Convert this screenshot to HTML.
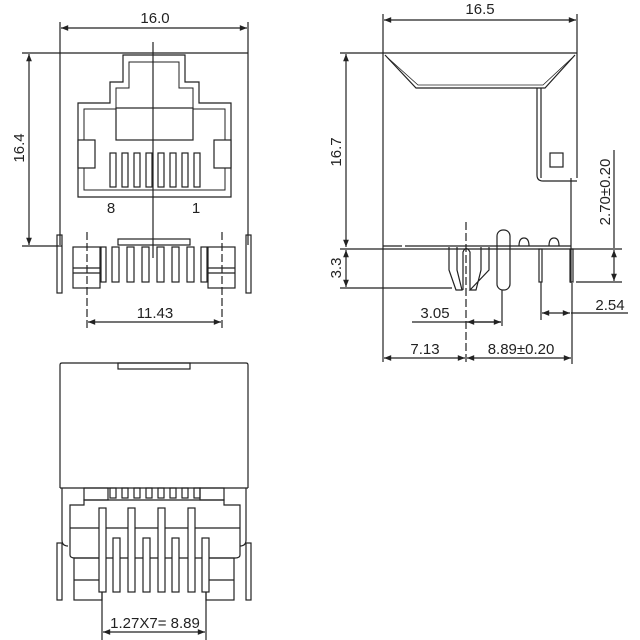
<!DOCTYPE html>
<html><head><style>html,body{margin:0;padding:0;background:#fff}svg{display:block}text{font-family:"Liberation Sans",sans-serif;font-size:15px;fill:#222;stroke:none}</style></head><body>
<svg width="640" height="640" viewBox="0 0 640 640" xmlns="http://www.w3.org/2000/svg" fill="none" stroke="#222" stroke-width="1.2">
<defs><marker id="a" viewBox="0 0 10 10" refX="10" refY="5" markerWidth="8" markerHeight="6" orient="auto-start-reverse"><path d="M0,1 L10,5 L0,9" fill="#222" stroke="none"/></marker></defs>
<!-- FRONT VIEW -->
<line x1="60" y1="22" x2="60" y2="245"/><line x1="248" y1="22" x2="248" y2="245"/>
<line x1="61" y1="28" x2="247" y2="28" marker-start="url(#a)" marker-end="url(#a)"/>
<text x="155" y="23" text-anchor="middle">16.0</text>
<line x1="60" y1="53" x2="248" y2="53"/>
<line x1="22" y1="53" x2="60" y2="53"/><line x1="22" y1="246" x2="62" y2="246"/>
<line x1="29" y1="54" x2="29" y2="245" marker-start="url(#a)" marker-end="url(#a)"/>
<text transform="translate(24,148) rotate(-90)" text-anchor="middle">16.4</text>
<path d="M123,55 H185 V82 H199 V103 H231 V197 H78 V103 H110 V82 H123 Z"/>
<path d="M129,62 H179 V88 H193 V109 H225 V190 H84 V109 H116 V88 H129 Z" stroke-width="1"/>
<rect x="116" y="108" width="77" height="32"/>
<rect x="78" y="140" width="17" height="28" fill="#fff"/><rect x="214" y="140" width="17" height="28" fill="#fff"/>
<g><rect x="110" y="153" width="6" height="34"/><rect x="122" y="153" width="6" height="34"/><rect x="134" y="153" width="6" height="34"/><rect x="146" y="153" width="6" height="34"/><rect x="158" y="153" width="6" height="34"/><rect x="170" y="153" width="6" height="34"/><rect x="182" y="153" width="6" height="34"/><rect x="194" y="153" width="6" height="34"/></g>
<text x="111" y="213" text-anchor="middle">8</text><text x="196" y="213" text-anchor="middle">1</text>
<line x1="153" y1="42" x2="153" y2="258"/>
<rect x="118" y="239" width="72" height="6"/>
<rect x="57" y="235" width="5" height="58"/><rect x="246" y="235" width="5" height="58"/>
<rect x="73" y="247" width="27" height="41"/><line x1="73" y1="268" x2="100" y2="268"/><line x1="73" y1="273" x2="100" y2="273"/>
<rect x="208" y="247" width="27" height="41"/><line x1="208" y1="268" x2="235" y2="268"/><line x1="208" y1="273" x2="235" y2="273"/>
<g><rect x="101" y="247" width="5" height="35"/><rect x="112" y="247" width="7" height="35"/><rect x="127" y="247" width="7" height="35"/><rect x="142" y="247" width="7" height="35"/><rect x="157" y="247" width="7" height="35"/><rect x="172" y="247" width="7" height="35"/><rect x="187" y="247" width="7" height="35"/><rect x="201" y="247" width="6" height="35"/></g>
<line x1="87" y1="232" x2="87" y2="328" stroke-dasharray="8,3"/><line x1="222" y1="232" x2="222" y2="328" stroke-dasharray="8,3"/>
<line x1="88" y1="322" x2="221" y2="322" marker-start="url(#a)" marker-end="url(#a)"/>
<text x="155" y="318" text-anchor="middle">11.43</text>
<!-- SIDE VIEW -->
<line x1="383" y1="14" x2="383" y2="362"/><line x1="577" y1="14" x2="577" y2="178"/>
<line x1="384" y1="20" x2="576" y2="20" marker-start="url(#a)" marker-end="url(#a)"/>
<text x="480" y="14" text-anchor="middle">16.5</text>
<line x1="340" y1="53" x2="577" y2="53"/>
<path d="M385,55 L416,88 H545 L575,55"/><path d="M388,58 L418,85 H543 L572,58" stroke-width="0.8"/>
<path d="M537,88 V175 Q537,181 543,181 H577"/><line x1="541" y1="88" x2="541" y2="178"/>
<rect x="550" y="153" width="13" height="14"/>
<line x1="571" y1="178" x2="571" y2="283"/>
<line x1="346" y1="54" x2="346" y2="247" marker-start="url(#a)" marker-end="url(#a)"/>
<text transform="translate(341,152) rotate(-90)" text-anchor="middle">16.7</text>
<line x1="340" y1="249" x2="622" y2="249"/>
<line x1="383" y1="246" x2="402" y2="246"/><line x1="405" y1="246" x2="571" y2="246"/>
<line x1="346" y1="250" x2="346" y2="287" marker-start="url(#a)" marker-end="url(#a)"/>
<text transform="translate(341,268) rotate(-90)" text-anchor="middle">3.3</text>
<line x1="340" y1="288" x2="452" y2="288"/>
<path d="M449,247 V270 L456,290 H462 L457,270 V247"/>
<path d="M481,247 V270 L476,290 H470 L489,270 V247" />
<path d="M463,290 V252 Q466,245 470,252 V290" />
<rect x="497" y="230" width="13" height="60" rx="6"/>
<path d="M519,246 Q519,238 524,238 Q529,238 529,246"/><path d="M549,246 Q549,238 554,238 Q559,238 559,246"/>
<rect x="539" y="249" width="3" height="33"/><rect x="570" y="249" width="3" height="33"/>
<line x1="466" y1="222" x2="466" y2="364" stroke-dasharray="8,3"/>
<line x1="614" y1="150" x2="614" y2="248" /><line x1="614" y1="250" x2="614" y2="281" marker-start="url(#a)" marker-end="url(#a)"/>
<text transform="translate(610,192) rotate(-90)" text-anchor="middle">2.70±0.20</text>
<line x1="576" y1="282" x2="622" y2="282"/>
<line x1="502" y1="290" x2="502" y2="326"/>
<line x1="412" y1="322" x2="501" y2="322"/><line x1="467" y1="322" x2="501" y2="322" marker-start="url(#a)" marker-end="url(#a)"/>
<text x="435" y="318" text-anchor="middle">3.05</text>
<line x1="541" y1="282" x2="541" y2="320"/>
<line x1="542" y1="313" x2="570" y2="313" marker-start="url(#a)" marker-end="url(#a)"/><line x1="571" y1="313" x2="628" y2="313"/>
<text x="610" y="310" text-anchor="middle">2.54</text>
<line x1="572" y1="283" x2="572" y2="364"/>
<line x1="384" y1="358" x2="465" y2="358" marker-start="url(#a)" marker-end="url(#a)"/>
<line x1="467" y1="358" x2="571" y2="358" marker-start="url(#a)" marker-end="url(#a)"/>
<text x="425" y="354" text-anchor="middle">7.13</text><text x="521" y="354" text-anchor="middle">8.89±0.20</text>
<!-- BOTTOM VIEW -->
<path d="M60,488 V365 Q60,363 62,363 H246 Q248,363 248,365 V488"/>
<rect x="118" y="363" width="72" height="6"/>
<line x1="60" y1="488" x2="248" y2="488"/>
<path d="M62,488 V540 Q62,546 68,546 M246,488 V540 Q246,546 240,546"/>
<rect x="57" y="543" width="5" height="57"/><rect x="246" y="543" width="5" height="57"/>
<rect x="84" y="488" width="24" height="12"/><rect x="200" y="488" width="24" height="12"/>
<g><rect x="110" y="488" width="6" height="10"/><rect x="122" y="488" width="6" height="10"/><rect x="134" y="488" width="6" height="10"/><rect x="146" y="488" width="6" height="10"/><rect x="158" y="488" width="6" height="10"/><rect x="170" y="488" width="6" height="10"/><rect x="182" y="488" width="6" height="10"/><rect x="194" y="488" width="6" height="10"/></g>
<path d="M70,555 V505 H84 V500 H224 V505 H240 V555 Q240,558 235,558 H75 Q70,558 70,555 Z"/>
<line x1="70" y1="528" x2="240" y2="528"/>
<rect x="74" y="558" width="28" height="42"/><rect x="206" y="558" width="28" height="42"/>
<line x1="74" y1="580" x2="102" y2="580"/><line x1="206" y1="580" x2="234" y2="580"/>
<g fill="#fff"><rect x="99" y="508" width="7" height="84"/><rect x="128" y="508" width="7" height="84"/><rect x="158" y="508" width="7" height="84"/><rect x="188" y="508" width="7" height="84"/>
<rect x="113" y="538" width="7" height="54"/><rect x="143" y="538" width="7" height="54"/><rect x="172" y="538" width="7" height="54"/><rect x="202" y="538" width="7" height="54"/></g>
<line x1="102" y1="592" x2="102" y2="640"/><line x1="206" y1="592" x2="206" y2="640"/>
<line x1="103" y1="632" x2="205" y2="632" marker-start="url(#a)" marker-end="url(#a)"/>
<text x="155" y="628" text-anchor="middle">1.27X7= 8.89</text>
</svg>
</body></html>
